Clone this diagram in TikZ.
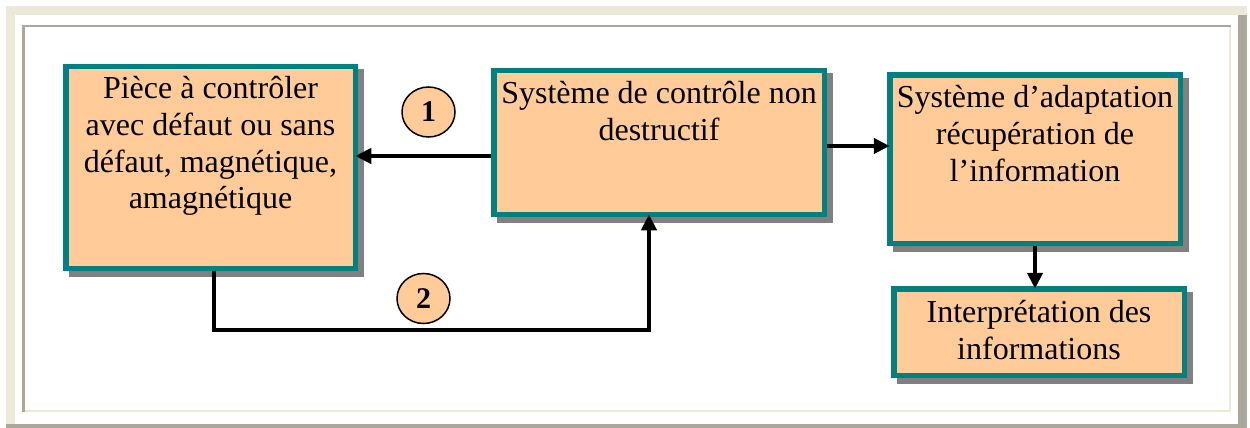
\documentclass[tikz,border=0pt]{standalone}
\usepackage{fontspec}
\setmainfont{Liberation Serif}
\usetikzlibrary{arrows.meta,shapes.geometric,backgrounds}

\definecolor{peach}{HTML}{FFCC99}
\definecolor{tealedge}{HTML}{008080}
\definecolor{shadowgray}{HTML}{808080}
\definecolor{framelight}{HTML}{ECE9D8}
\definecolor{framedark}{HTML}{ACA899}

\begin{document}
\begin{tikzpicture}[x=1pt,y=-1pt,
  box/.style={rectangle, draw=tealedge, line width=5.5pt, fill=peach,
    inner sep=0pt, outer sep=0pt, anchor=north west},
  boxtext/.style={anchor=base, inner sep=0pt,
    font=\fontsize{32}{37}\selectfont},
  conn/.style={line width=4pt, shorten <=2.75pt,
    -{Triangle[length=16pt,width=15pt]}},
  badge/.style={ellipse, draw=black, line width=1.5pt, fill=peach,
    minimum width=53pt, minimum height=50pt, inner sep=0pt,
    font=\bfseries\fontsize{30}{30}\selectfont},
  boxshadow/.style={fill=shadowgray}
]
\useasboundingbox (0,0) rectangle (1250,428);

% blocks
\node[box, minimum width=289.5pt, minimum height=201.5pt] (A) at (65.75,66.75) {};
\node[box, minimum width=330.5pt, minimum height=143.5pt] (B) at (493.75,70.75) {};
\node[box, minimum width=290.5pt, minimum height=168.5pt] (C) at (889.75,74.75) {};
\node[box, minimum width=290.5pt, minimum height=86.5pt] (D) at (893.75,288.75) {};

% page, frames and drop shadows, all beneath the blocks
\begin{scope}[on background layer]
  \fill[white] (0,0) rectangle (1250,428);
  % outer raised frame
  \fill[framelight] (6,6) rectangle (1247,15);
  \fill[framelight] (6,6) rectangle (15,424);
  \fill[framedark] (1238,15) rectangle (1247,433);
  \fill[framedark] (6,424) rectangle (1247,433);
  % inner sunken frame
  \fill[framedark] (22,25) rectangle (1231,27.5);
  \fill[framedark] (22,25) rectangle (24.5,412);
  \fill[framelight] (1228.5,27.5) rectangle (1231,412);
  \fill[framelight] (24.5,409.5) rectangle (1231,412);
  % shadows
  \foreach \b in {A,B,C,D}
    \fill[boxshadow] ([shift={(2.75,2.75)}]\b.north west)
      rectangle ([shift={(8.25,8.25)}]\b.south east);
\end{scope}

% block labels
\node[boxtext] (tA) at (210.5,98) {\parbox[t]{300pt}{\centering Pièce à contrôler\\avec défaut ou sans\\défaut, magnétique,\\amagnétique}};
\node[boxtext] (tB) at (659,103) {\parbox[t]{330pt}{\centering Système de contrôle non\\destructif}};
\node[boxtext] (tC) at (1035,107) {\parbox[t]{300pt}{\centering Système d’adaptation\\récupération de\\l’information}};
\node[boxtext] (tD) at (1039,322) {\parbox[t]{300pt}{\centering Interprétation des\\informations}};

% routing levels
\coordinate (lvl1) at (0,156);
\coordinate (lvl3) at (0,146);
\coordinate (loopL) at (214,330);
\coordinate (loopR) at (649,330);

% connectors
\draw[conn] (B.west |- lvl1) -- (A.east |- lvl1);
\draw[conn] (A.south -| loopL) -- (loopL) -- (loopR) -- (B.south -| loopR);
\draw[conn] (B.east |- lvl3) -- (C.west |- lvl3);
\draw[conn] (C.south) -- (C.south |- D.north);

% numbered markers
\node[badge] (n1) at (428.5,112) {1};
\node[badge] (n2) at (423.5,298.5) {2};
\end{tikzpicture}
\end{document}
